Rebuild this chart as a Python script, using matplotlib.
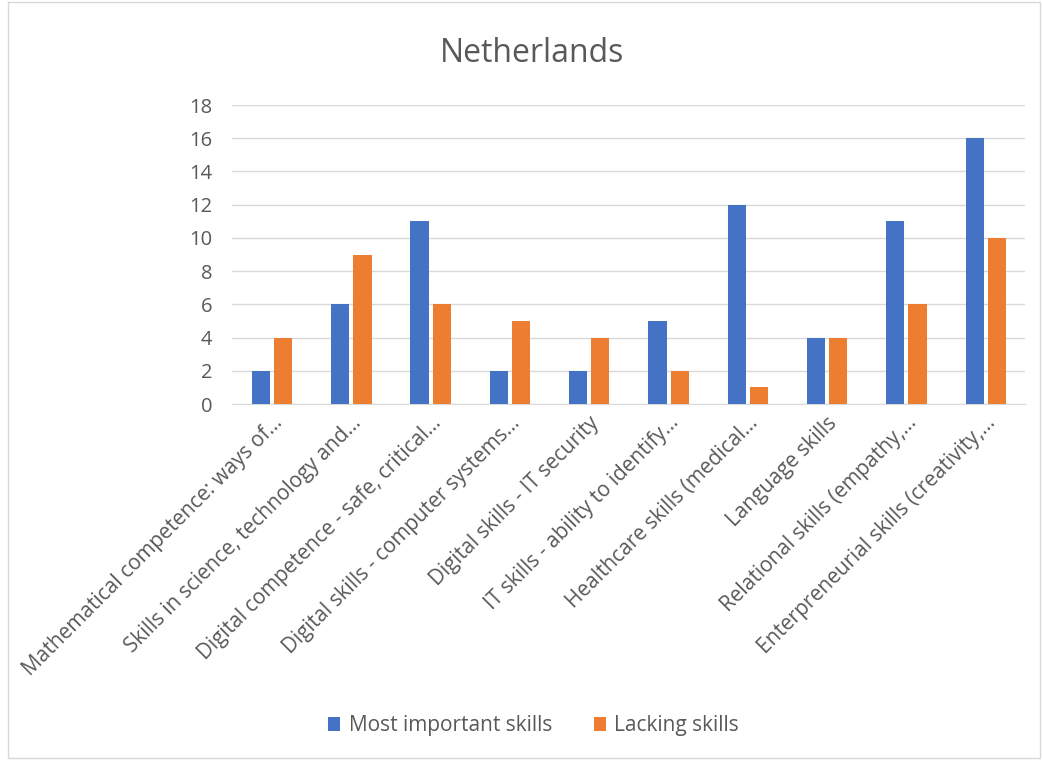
import matplotlib
matplotlib.use("Agg")
import matplotlib.pyplot as plt
import numpy as np
from matplotlib.patches import Rectangle

categories = [
    "Mathematical competence: ways of...",
    "Skills in science, technology and...",
    "Digital competence - safe, critical...",
    "Digital skills - computer systems...",
    "Digital skills - IT security",
    "IT skills - ability to identify...",
    "Healthcare skills (medical...",
    "Language skills",
    "Relational skills (empathy,...",
    "Enterpreneurial skills (creativity,...",
]
most_important = [2, 6, 11, 2, 2, 5, 12, 4, 11, 16]
lacking = [4, 9, 6, 5, 4, 2, 1, 4, 6, 10]
yticks = list(range(0, 19, 2))

plt.rcParams['font.family'] = ['Open Sans', 'DejaVu Sans']
fig = plt.figure(figsize=(10.42, 7.6), dpi=100)
ax = fig.add_axes([0.2226, 0.4684, 0.7611, 0.3934])

x = np.arange(len(categories))
w = 0.23
ax.bar(x - 0.135, most_important, width=w, color='#4472C4', label='Most important skills', zorder=3)
ax.bar(x + 0.145, lacking, width=w, color='#ED7D31', label='Lacking skills', zorder=3)

ax.set_xlim(-0.5, len(categories) - 0.5)
ax.set_ylim(0, 18)
ax.set_yticks(yticks)
ax.yaxis.grid(True, color='#D9D9D9', linewidth=1, zorder=0)
for s in ['top', 'right', 'left']:
    ax.spines[s].set_visible(False)
ax.spines['bottom'].set_color('#D9D9D9')
ax.tick_params(axis='y', length=0, labelsize=14.5, labelcolor='#595959', pad=14)
ax.tick_params(axis='x', length=0, labelsize=15, labelcolor='#595959', pad=6)
ax.set_xticks(x)
ax.set_xticklabels(categories, rotation=45, ha='right', rotation_mode='anchor')

fig.text(0.511, 0.930, 'Netherlands', ha='center', va='center', fontsize=23, color='#595959')

handles, labels = ax.get_legend_handles_labels()
fig.legend(handles, labels, loc='center', bbox_to_anchor=(0.512, 0.045), ncol=2,
           frameon=False, fontsize=15, labelcolor='#595959', handlelength=0.6,
           handleheight=0.6, columnspacing=2.0, handletextpad=0.4)

fig.patches.append(Rectangle((0.008, 0.003), 0.99, 0.995, transform=fig.transFigure,
                             fill=False, edgecolor='#D9D9D9', linewidth=1))

fig.savefig('out.png', dpi=100)
